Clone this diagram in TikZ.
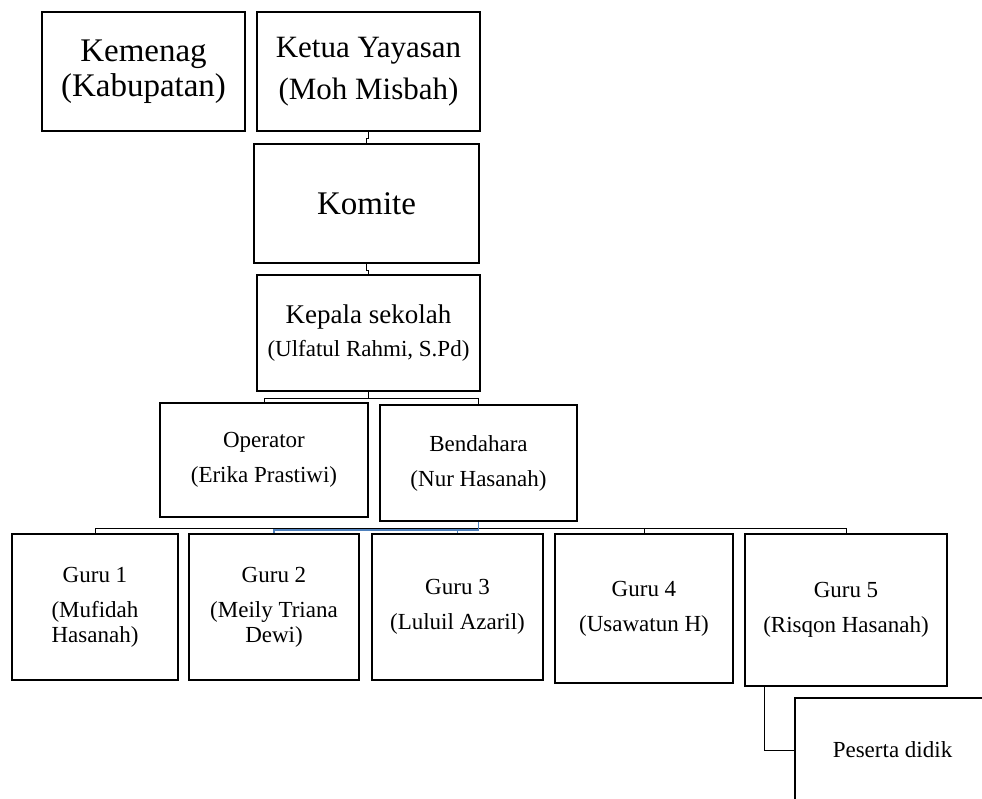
\documentclass[tikz,border=0pt]{standalone}
\usepackage{fontspec}
\setmainfont{Liberation Serif}
\definecolor{linkblue}{RGB}{79,129,189}

\begin{document}
\begin{tikzpicture}[x=1pt,y=-1pt,
  box/.style={draw,line width=2.6pt,inner sep=0pt,align=center,font=\fontsize{23}{25}\selectfont},
  link/.style={line width=0.9pt},
  bluelink/.style={line width=1.2pt,draw=linkblue}]

\useasboundingbox (0,0) rectangle (982,798);
\clip (0,0) rectangle (982,798);

\node[box,minimum width=203pt,minimum height=119pt,font=\fontsize{33}{35}\selectfont] (kemenag) at (143.5,71.5) {Kemenag\\(Kabupatan)};
\node[box,minimum width=223pt,minimum height=119pt,font=\fontsize{31}{42}\selectfont] (ketua) at (368.5,71.5) {Ketua Yayasan\\(Moh Misbah)};
\node[box,minimum width=225pt,minimum height=119pt,font=\fontsize{33}{36}\selectfont] (komite) at (366.5,203.5) {Komite};
\node[box,minimum width=223pt,minimum height=116pt] (kepala) at (368.5,333) {{\fontsize{27}{30}\selectfont Kepala sekolah}\\[8pt](Ulfatul Rahmi, S.Pd)};

\node[box,minimum width=208pt,minimum height=114pt] (operator) at (264,460) {Operator\\[10pt](Erika Prastiwi)};
\node[box,minimum width=197pt,minimum height=116pt] (bendahara) at (478.5,463) {Bendahara\\[10pt](Nur Hasanah)};

\foreach \x/\cx/\cy/\w/\h/\txt in {1/95/607/166/146/{Guru 1\\[10pt](Mufidah\\Hasanah)},
  2/274/607/170/146/{Guru 2\\[10pt](Meily Triana\\Dewi)},
  3/457.5/607/171/146/{Guru 3\\[10pt](Luluil Azaril)},
  4/644/608.5/178/149/{Guru 4\\[10pt](Usawatun H)},
  5/846/610/202/152/{Guru 5\\[10pt](Risqon Hasanah)}}
{
  \node[box,minimum width=\w pt,minimum height=\h pt] (guru\x) at (\cx,\cy) {\txt};
}

\node[box,minimum width=195pt,minimum height=104pt] (peserta) at (892.5,750) {Peserta didik};

\draw[link] (ketua.south) -- ++(0,6) -| (komite.north);
\draw[link] (komite.south) -- ++(0,6) -| (kepala.north);

\path (kepala.south) ++(0,6) coordinate (kbar);
\draw[link] (kepala.south) -- (kbar);
\draw[link] (operator.north) |- (kbar) -| (bendahara.north);

\coordinate (gbar) at (0,528);
\coordinate (bbar) at (0,530);
\draw[link] (guru1.north) |- (gbar -| guru5.north) -- (guru5.north);
\draw[link] (guru4.north) -- (guru4.north |- gbar);
\draw[bluelink] (bendahara.south) |- (bbar -| guru2.north) -- (guru2.north);
\draw[bluelink] (guru3.north |- bbar) -- (guru3.north);

\draw[link] ([xshift=21pt]guru5.south west) |- (peserta.west);

\end{tikzpicture}
\end{document}
